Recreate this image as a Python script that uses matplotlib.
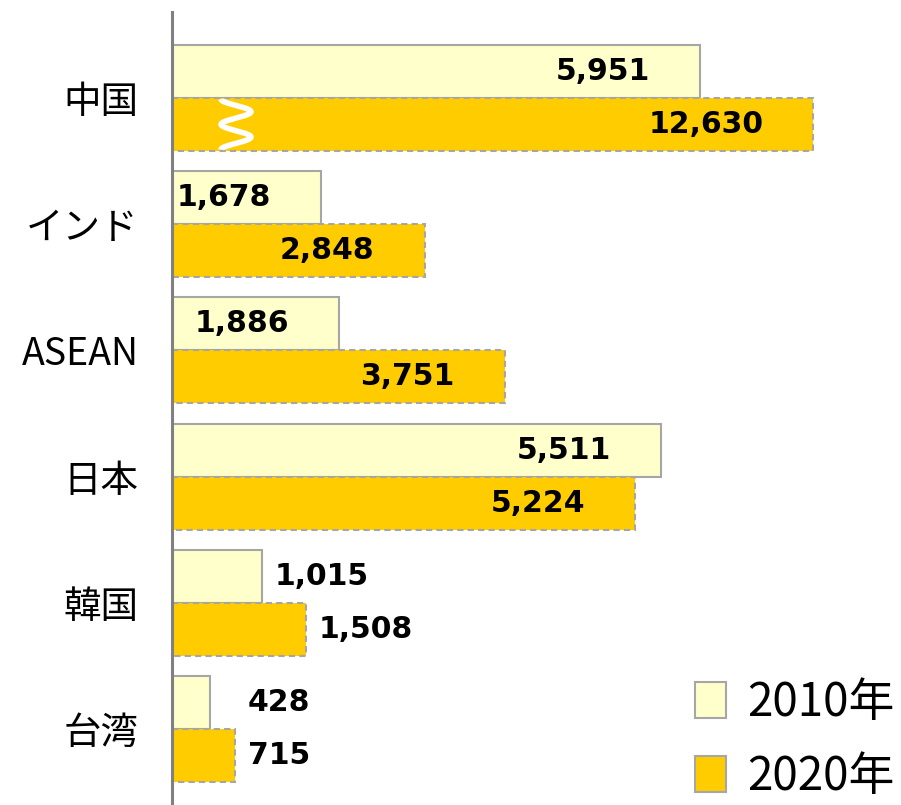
import numpy as np
import matplotlib.pyplot as plt
from matplotlib.patches import Patch

plt.rcParams['font.family'] = ['Noto Sans CJK JP', 'DejaVu Sans']

# データ
regions = ['中国', 'インド', 'ASEAN', '日本', '韓国', '台湾']
val_2010 = [5951, 1678, 1886, 5511, 1015, 428]
val_2020 = [12630, 2848, 3751, 5224, 1508, 715]
labels_series = ['2010年', '2020年']

# 省略表示（波線）の上限
break_cap = 7230

col_2010 = '#FFFFCC'
col_2020 = '#FFCC00'
edge_col = '#A6A6A6'

fig = plt.figure(figsize=(9.01, 8.05), dpi=100)
ax = fig.add_axes([172 / 901, 0, 729 / 901, 793 / 805])

y = np.arange(len(regions))
h = 0.42
shown_2020 = [min(v, break_cap) for v in val_2020]

ax.barh(y - h / 2, val_2010, height=h, color=col_2010, edgecolor=edge_col,
        linewidth=1.5, zorder=2)
ax.barh(y + h / 2, shown_2020, height=h, color=col_2020, edgecolor=edge_col,
        linewidth=1.5, linestyle=(0, (3, 2)), zorder=2)

ax.set_xlim(0, 8219)
ax.set_ylim(5.6, -0.68)

# 軸の体裁
for s in ['top', 'right', 'bottom']:
    ax.spines[s].set_visible(False)
ax.spines['left'].set_color('#808080')
ax.spines['left'].set_linewidth(2.2)
ax.set_xticks([])
ax.set_yticks(y)
ax.set_yticklabels(regions, fontsize=27)
ax.tick_params(axis='y', length=0, pad=24)

# 数値ラベル
def px(n):
    # ピクセル -> データ幅
    return n * 8219 / 729

min_left = px(248 - 172)

def put_label(yy, v, shown):
    txt = f'{v:,}'
    kw = dict(fontsize=21.5, fontweight='bold', family='DejaVu Sans',
              va='center', zorder=4)
    if shown > 1600:
        ax.text(shown - px(50), yy, txt, ha='right', **kw)
    else:
        ax.text(max(shown + px(13), min_left), yy, txt, ha='left', **kw)

for i in range(len(regions)):
    put_label(y[i] - h / 2, val_2010[i], val_2010[i])
    put_label(y[i] + h / 2, val_2020[i], shown_2020[i])

# 省略記号（白い波線）
t = np.linspace(0, 1, 200)
wx = px(236 - 172) - px(15) * np.cos(4 * np.pi * t)
wy = (y[0] + 0.01) + t * (h - 0.02)
ax.plot(wx, wy, color='white', linewidth=4, solid_capstyle='butt', zorder=3)

# 凡例
handles = [Patch(facecolor=col_2010, edgecolor=edge_col, linewidth=1.5),
           Patch(facecolor=col_2020, edgecolor=edge_col, linewidth=1.5)]
fig.legend(handles, labels_series, loc='lower right',
           bbox_to_anchor=(1.023, -0.029), frameon=False,
           prop={'family': 'Noto Sans CJK JP', 'size': 33},
           handlelength=0.68, handleheight=0.83, handletextpad=0.46,
           labelspacing=0.55, borderaxespad=0.2)

fig.savefig('out.png', dpi=100)
